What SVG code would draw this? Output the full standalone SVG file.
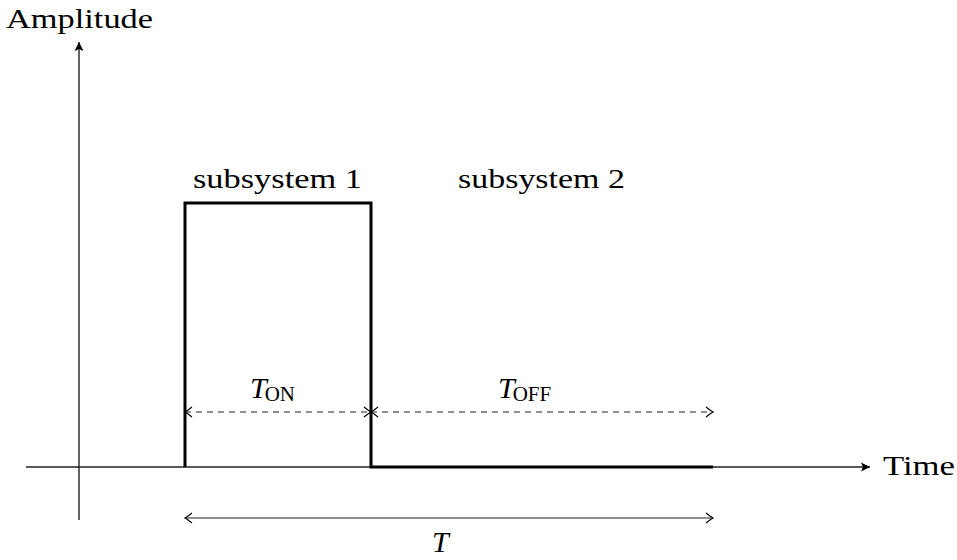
<svg xmlns="http://www.w3.org/2000/svg" width="957" height="560" viewBox="0 0 957 560">
<style>
text{font-family:"Liberation Serif","Times New Roman",serif;fill:#000}
.lbl{font-size:28px}
.it{font-style:italic;font-size:30px}
.sub{font-size:21px}
.axis{stroke:#222;stroke-width:1.4;fill:none}
.thick{stroke:#000;stroke-width:3;fill:none}
.dim{stroke:#222;stroke-width:1.1;fill:none}
.dash{stroke-dasharray:6,5}
</style>
<defs>
<marker id="ah" viewBox="-10 -6 12 12" markerWidth="12" markerHeight="12" refX="0" refY="0" orient="auto-start-reverse" markerUnits="userSpaceOnUse">
<path d="M-7,-5 Q-2,-1 0,0 Q-2,1 -7,5" fill="none" stroke="#000" stroke-width="1.2"/>
</marker>
<marker id="as" viewBox="-12 -6 14 12" markerWidth="14" markerHeight="12" refX="0" refY="0" orient="auto" markerUnits="userSpaceOnUse">
<path d="M-9,-4.5 L0,0 L-9,4.5 L-7,0 Z" fill="#000"/>
</marker>
</defs>
<g id="connectors">
<line id="x-axis" class="axis" x1="26" y1="467" x2="870" y2="467" marker-end="url(#as)"/>
<line id="y-axis" class="axis" x1="79" y1="520" x2="79" y2="42" marker-end="url(#as)"/>
<line id="t-on" class="dim dash" x1="185" y1="412" x2="371" y2="412" marker-start="url(#ah)" marker-end="url(#ah)"/>
<line id="t-off" class="dim dash" x1="371" y1="412" x2="713" y2="412" marker-start="url(#ah)" marker-end="url(#ah)"/>
<line id="t-period" class="dim" x1="185" y1="518" x2="713" y2="518" marker-start="url(#ah)" marker-end="url(#ah)"/>
</g>
<g id="pulse">
<polyline class="thick" points="185,467 185,203 371,203 371,467 713,467" stroke-linejoin="miter"/>
</g>
<g id="labels">
<text id="amplitude" class="lbl" x="6" y="28" textLength="147" lengthAdjust="spacingAndGlyphs">Amplitude</text>
<text id="time" class="lbl" x="883" y="475" textLength="72" lengthAdjust="spacingAndGlyphs">Time</text>
<text id="sub1" class="lbl" x="193" y="188" textLength="169" lengthAdjust="spacingAndGlyphs">subsystem 1</text>
<text id="sub2" class="lbl" x="458" y="188" textLength="167" lengthAdjust="spacingAndGlyphs">subsystem 2</text>
<text id="ton" x="250" y="398"><tspan class="it">T</tspan><tspan class="sub" dx="-2" dy="3">ON</tspan></text>
<text id="toff" x="498" y="398"><tspan class="it">T</tspan><tspan class="sub" dx="-2" dy="3">OFF</tspan></text>
<text id="period" class="it" x="432" y="552">T</text>
</g>
</svg>
